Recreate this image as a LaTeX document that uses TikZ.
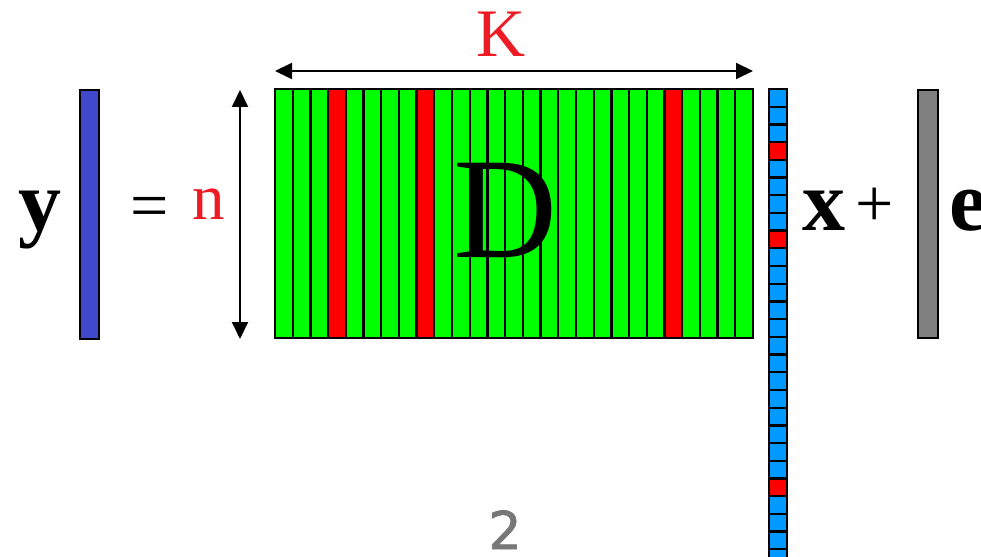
\documentclass[tikz,border=0pt]{standalone}
\usepackage{fontspec}
\setmainfont{Liberation Serif}
\newfontfamily\numfont[FakeBold=1.6]{DejaVu Sans}
\usetikzlibrary{arrows.meta}
\definecolor{mgreen}{RGB}{0,255,0}
\definecolor{mred}{RGB}{255,0,0}
\definecolor{xblue}{RGB}{0,153,255}
\definecolor{yblue}{RGB}{64,72,204}
\definecolor{egray}{RGB}{128,128,128}
\definecolor{lblred}{RGB}{237,28,36}
\definecolor{pgray}{RGB}{120,120,120}
\tikzset{
  txt/.style={inner sep=0pt, outer sep=0pt},
  bigbold/.style={txt, font=\fontsize{86}{86}\selectfont\bfseries},
  dim/.style={line width=2pt, {Triangle[length=17pt,width=16pt]}-{Triangle[length=17pt,width=16pt]}},
  cellline/.style={line width=2.3pt, draw=black},
}
\begin{document}
\begin{tikzpicture}[x=1pt,y=-1pt]
\useasboundingbox (0,0) rectangle (981,556);
% y vector
\filldraw[fill=yblue, cellline] (80,90) rectangle (99,339);
\node[bigbold, anchor=base] (ylab) at (40,230) {y};
\node[txt, font=\fontsize{68}{68}\selectfont, anchor=center] (eq) at (149.5,212.5) {=};
\node[txt, font=\fontsize{65}{65}\selectfont, text=lblred, anchor=base] (nlab) at (208.5,219) {n};
% n arrow
\coordinate (nt) at (240,90);
\coordinate (nb) at (240,339);
\draw[dim] (nt) -- (nb);
% K arrow
\coordinate (kl) at (275,71);
\coordinate (kr) at (753,71);
\draw[dim] (kl) -- (kr);
\node[txt, font=\fontsize{68}{68}\selectfont, text=lblred, anchor=base] (klab) at (501,57) {K};
% D matrix
\fill[mgreen] (275,89) rectangle (753,338);
\foreach \i in {3,8,22} \fill[mred] (275+\i*17.704,89) rectangle ++(17.704,249);
\foreach \i in {1,...,26} \draw[cellline] (275+\i*17.704,89) -- ++(0,249);
\draw[line width=2.6pt] (275,89) rectangle (753,338);
\node[txt, font=\fontsize{144}{144}\selectfont, anchor=base] (dlab) at (505,257) {D};
% x vector
\begin{scope}
\clip (760,80) rectangle (800,556);
\foreach \i in {0,...,26} \filldraw[fill=xblue, cellline] (769,89+\i*17.704) rectangle ++(18,17.704);
\foreach \i in {3,8,22} \filldraw[fill=mred, cellline] (769,89+\i*17.704) rectangle ++(18,17.704);
\end{scope}
\node[bigbold, anchor=base] (xlab) at (824,230) {x};
\node[txt, font=\fontsize{68}{68}\selectfont, anchor=center] (plus) at (875,207) {+};
% e vector
\filldraw[fill=egray, cellline] (918,90) rectangle (938,338);
\node[bigbold, anchor=base west] (elab) at (949,230) {e};
% page number
\node[txt, font=\numfont\fontsize{52}{52}\selectfont, text=pgray, anchor=base] (pnum) at (505,549) {2};
\end{tikzpicture}
\end{document}
